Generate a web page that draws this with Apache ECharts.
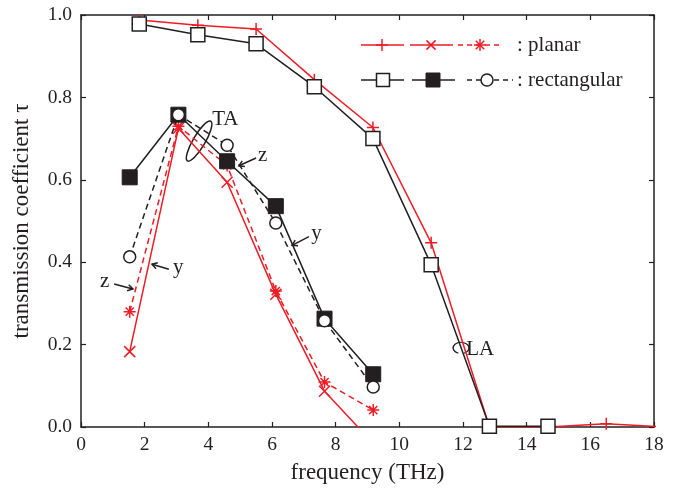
<!DOCTYPE html>
<html><head><meta charset="utf-8">
<script src="https://cdn.jsdelivr.net/npm/echarts@6/dist/echarts.min.js"></script>
<style>html,body{margin:0;padding:0;background:#fff}#c{width:677px;height:489px}</style>
</head><body><div id="c"></div>
<script>
// ---- data ----
var laX = [1.83, 3.67, 5.5, 7.33, 9.17, 11.0, 12.83, 14.67, 16.5, 18.33];
var planarLA = [0.988, 0.975, 0.966, 0.843, 0.727, 0.447, 0.0, 0.0, 0.008, 0.0];
var rectLAX = [1.83, 3.67, 5.5, 7.33, 9.17, 11.0, 12.83, 14.67];
var rectLA = [0.978, 0.952, 0.930, 0.826, 0.700, 0.394, 0.002, 0.002];
var taX = [1.53, 3.06, 4.59, 6.12, 7.65, 9.18];
var planarTAy = [0.183, 0.725, 0.594, 0.322, 0.087, -0.04];
var planarTAz = [0.280, 0.730, 0.635, 0.330, 0.109, 0.041];
var rectTAy = [0.606, 0.758, 0.645, 0.536, 0.263, 0.128];
var rectTAz = [0.413, 0.758, 0.684, 0.495, 0.258, 0.097];
var xTicks = {min: 0, max: 18, interval: 2};
var yTicks = {min: 0, max: 1, interval: 0.2};

var RED = '#ee1c25', BLK = '#231f20';
var FONT = '"Liberation Serif","Times New Roman","DejaVu Serif",serif';
var PLUS = 'path://M0,5L10,5M5,0L5,10';
var CROSS = 'path://M0,0L10,10M10,0L0,10';
var STAR = 'path://M0,5L10,5M5,0L5,10M1.6,1.6L8.4,8.4M8.4,1.6L1.6,8.4';

function pairs(xs, ys) { return xs.map(function (x, i) { return [x, ys[i]]; }); }

var chart = echarts.init(document.getElementById('c'));
function axisCommon(extra) {
  var o = {
    axisLine: {show: true, onZero: false, lineStyle: {color: BLK, width: 1.5}},
    axisTick: {show: true, inside: true, length: 5, lineStyle: {color: BLK, width: 1.2}},
    splitLine: {show: false}
  };
  for (var k in extra) o[k] = extra[k];
  return o;
}
var option = {
  animation: false,
  backgroundColor: '#fff',
  grid: {left: 81, right: 23, top: 15, bottom: 59},
  xAxis: [
    axisCommon({type: 'value', min: xTicks.min, max: xTicks.max, interval: xTicks.interval, position: 'bottom',
      name: 'frequency (THz)', nameLocation: 'middle', nameGap: 34,
      nameTextStyle: {fontFamily: FONT, fontSize: 23, color: BLK},
      axisLabel: {fontFamily: FONT, fontSize: 19.5, color: BLK, margin: 8}}),
    axisCommon({type: 'value', min: xTicks.min, max: xTicks.max, interval: xTicks.interval, position: 'top',
      axisLabel: {show: false}})
  ],
  yAxis: [
    axisCommon({type: 'value', min: yTicks.min, max: yTicks.max, interval: yTicks.interval, position: 'left',
      name: 'transmission coefficient τ', nameLocation: 'middle', nameGap: 48,
      nameTextStyle: {fontFamily: FONT, fontSize: 23, color: BLK},
      axisLabel: {fontFamily: FONT, fontSize: 19.5, color: BLK, margin: 9,
        formatter: function (v) { return v.toFixed(1); }}}),
    axisCommon({type: 'value', min: yTicks.min, max: yTicks.max, interval: yTicks.interval, position: 'right',
      axisLabel: {show: false}})
  ],
  series: [
    {name: 'planarLA', type: 'line', data: pairs(laX, planarLA), symbol: PLUS, symbolSize: 12, clip: true,
      lineStyle: {color: RED, width: 1.5}, itemStyle: {color: RED, borderColor: RED, borderWidth: 1.5}, z: 2},
    {name: 'rectLA', type: 'line', data: pairs(rectLAX, rectLA), symbol: 'rect', symbolSize: 14, clip: true,
      lineStyle: {color: BLK, width: 1.5}, itemStyle: {color: '#fff', borderColor: BLK, borderWidth: 1.5}, z: 3},
    {name: 'planarTAy', type: 'line', data: pairs(taX, planarTAy), symbol: CROSS, symbolSize: 11, clip: true,
      lineStyle: {color: RED, width: 1.5}, itemStyle: {color: RED, borderColor: RED, borderWidth: 1.5}, z: 2},
    {name: 'planarTAz', type: 'line', data: pairs(taX, planarTAz), symbol: STAR, symbolSize: 12, clip: true,
      lineStyle: {color: RED, width: 1.5, type: [6, 4]}, itemStyle: {color: RED, borderColor: RED, borderWidth: 1.5}, z: 2},
    {name: 'rectTAy', type: 'line', data: pairs(taX, rectTAy), symbol: 'rect', symbolSize: 15, clip: true,
      lineStyle: {color: BLK, width: 1.5}, itemStyle: {color: BLK, borderColor: BLK, borderWidth: 1}, z: 4},
    {name: 'rectTAz', type: 'line', data: pairs(taX, rectTAz), symbol: 'circle', symbolSize: 12, clip: true,
      lineStyle: {color: BLK, width: 1.5, type: [6, 4]}, itemStyle: {color: '#fff', borderColor: BLK, borderWidth: 1.5}, z: 5}
  ]
};
chart.setOption(option);

// ---- annotations (data coordinates) ----
var notes = [
  {text: 'TA', at: [4.12, 0.747]},
  {text: 'z', at: [5.56, 0.660]},
  {text: 'y', at: [7.23, 0.469]},
  {text: 'y', at: [2.89, 0.387]},
  {text: 'z', at: [0.60, 0.353]},
  {text: 'LA', at: [12.10, 0.187]}
];
var arrows = [
  {from: [5.50, 0.653], to: [4.96, 0.634]},
  {from: [7.16, 0.462], to: [6.63, 0.441]},
  {from: [2.76, 0.383], to: [2.23, 0.395]},
  {from: [1.04, 0.347], to: [1.63, 0.335]}
];
var P = function (p) { return chart.convertToPixel({gridIndex: 0}, p); };
var g = [];
notes.forEach(function (n) {
  var p = P(n.at);
  g.push({type: 'text', x: p[0], y: p[1], style: {text: n.text, font: '21px ' + FONT, fill: BLK, verticalAlign: 'middle'}});
});
arrows.forEach(function (a) {
  var f = P(a.from), t = P(a.to);
  var ang = Math.atan2(f[1] - t[1], f[0] - t[0]), L = 6, sp = 0.55;
  g.push({type: 'line', shape: {x1: f[0], y1: f[1], x2: t[0], y2: t[1]}, style: {stroke: BLK, lineWidth: 1.5}});
  g.push({type: 'polyline', shape: {points: [
    [t[0] + L * Math.cos(ang + sp), t[1] + L * Math.sin(ang + sp)], [t[0], t[1]],
    [t[0] + L * Math.cos(ang - sp), t[1] + L * Math.sin(ang - sp)]]}, style: {stroke: BLK, lineWidth: 1.5, fill: null}});
});
var ec = P([3.71, 0.694]);
g.push({type: 'ellipse', x: ec[0], y: ec[1], rotation: 59.5 * Math.PI / 180, shape: {cx: 0, cy: 0, rx: 23, ry: 6},
  style: {fill: null, stroke: BLK, lineWidth: 1.5}});
var lc = P([11.94, 0.192]);
g.push({type: 'arc', x: lc[0], y: lc[1], scaleY: 0.7, shape: {cx: 0, cy: 0, r: 8, startAngle: 110 * Math.PI / 180, endAngle: 430 * Math.PI / 180, clockwise: true},
  style: {fill: null, stroke: BLK, lineWidth: 1.5}});

// ---- legend ----
function seg(x1, x2, y, color, dash) {
  return {type: 'line', shape: {x1: x1, y1: y, x2: x2, y2: y}, style: {stroke: color, lineWidth: 1.5, lineDash: dash || null}};
}
function lines(cx, cy, r, angs, color) {
  return angs.map(function (a) {
    var c = Math.cos(a), s = Math.sin(a);
    return {type: 'line', shape: {x1: cx - r * c, y1: cy - r * s, x2: cx + r * c, y2: cy + r * s}, style: {stroke: color, lineWidth: 1.5}};
  });
}
var D = Math.PI / 180;
var y1 = 45, y2 = 80;
g.push(seg(361, 404, y1, RED));
g = g.concat(lines(382, y1, 6, [0, 90 * D], RED));
g.push(seg(410, 453, y1, RED));
g = g.concat(lines(431, y1, 6.5, [45 * D, 135 * D], RED));
g.push(seg(458, 503, y1, RED, [5, 4]));
g = g.concat(lines(480, y1, 6, [0, 90 * D, 45 * D, 135 * D], RED));
g.push({type: 'text', x: 517, y: y1, style: {text: ': planar', font: '21px ' + FONT, fill: BLK, verticalAlign: 'middle'}});
g.push(seg(361, 404, y2, BLK));
g.push({type: 'rect', shape: {x: 383 - 6.5, y: y2 - 6.5, width: 13, height: 13}, style: {fill: '#fff', stroke: BLK, lineWidth: 1.5}});
g.push(seg(412, 455, y2, BLK));
g.push({type: 'rect', shape: {x: 433 - 7, y: y2 - 7, width: 14, height: 14}, style: {fill: BLK, stroke: BLK, lineWidth: 1}});
g.push(seg(467, 513, y2, BLK, [5, 4]));
g.push({type: 'circle', shape: {cx: 487, cy: y2, r: 6}, style: {fill: '#fff', stroke: BLK, lineWidth: 1.5}});
g.push({type: 'text', x: 517, y: y2, style: {text: ': rectangular', font: '21px ' + FONT, fill: BLK, verticalAlign: 'middle'}});

chart.setOption({graphic: {elements: g}});
</script></body></html>
